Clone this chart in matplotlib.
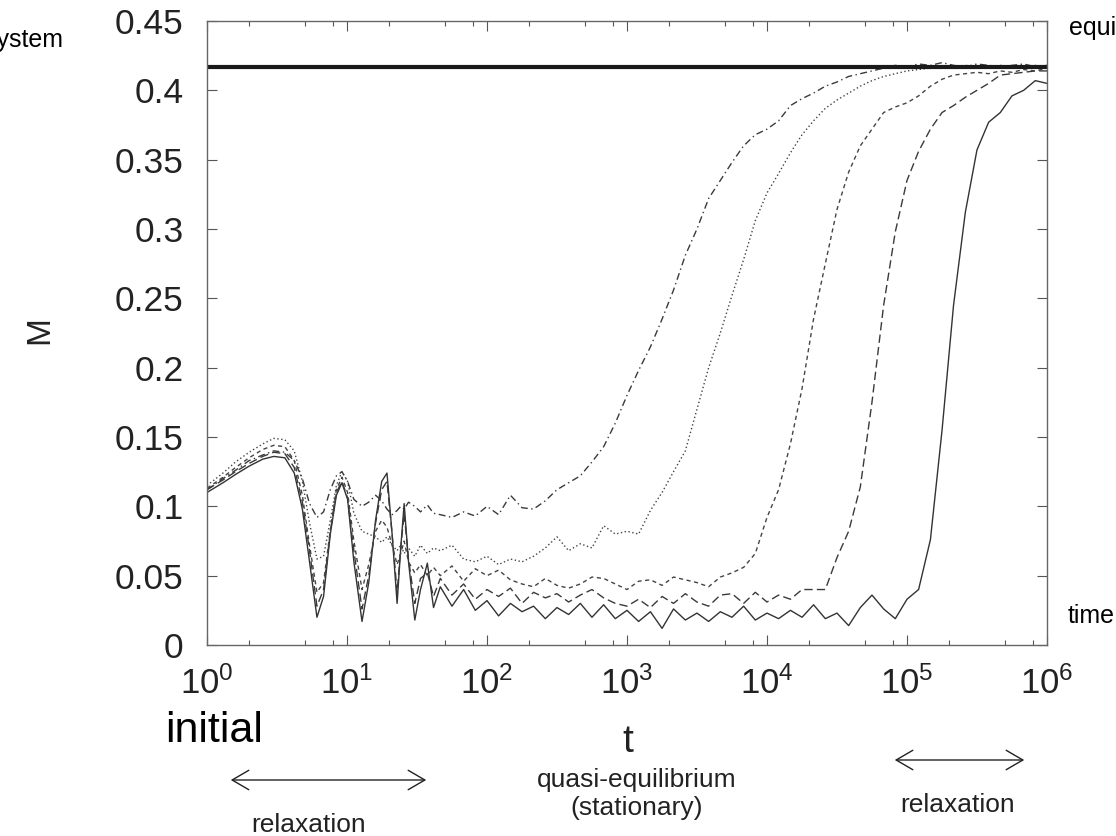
import matplotlib
matplotlib.use('Agg')
import matplotlib.pyplot as plt
from matplotlib.ticker import LogLocator, NullFormatter
from matplotlib.patches import FancyArrowPatch

# time grid: dense for early oscillations, then 12 points per decade
t_early = [1, 1.3, 1.6, 2, 2.5, 3, 3.6, 4.2, 4.8, 5.4,
           6.1, 6.8, 7.6, 8.4, 9.2, 10.1, 11.2, 12.8, 14.3, 16,
           17.7, 19.3, 21, 22.8, 24.2, 25.6, 27.5, 30.5, 33.5, 37.5,
           41.5]
t_late = [46.4, 56.2, 68.1, 82.5,
          100, 121, 147, 178, 215, 261, 316, 383, 464, 562, 681, 825,
          1000, 1210, 1470, 1780, 2150, 2610, 3160, 3830, 4640, 5620, 6810, 8250,
          10000, 12100, 14700, 17800, 21500, 26100, 31600, 38300, 46400, 56200, 68100, 82500,
          100000, 121000, 147000, 178000, 215000, 261000, 316000, 383000, 464000, 562000, 681000, 825000,
          1000000]

# solid curve (slowest)
m_solid_early = [0.110, 0.117, 0.123, 0.129, 0.134, 0.136, 0.135, 0.124, 0.098, 0.060,
                 0.020, 0.035, 0.080, 0.108, 0.117, 0.105, 0.060, 0.017, 0.045, 0.090,
                 0.118, 0.124, 0.080, 0.030, 0.070, 0.102, 0.060, 0.018, 0.040, 0.059,
                 0.027]
m_solid_late = [0.042, 0.028, 0.040, 0.025,
                0.032, 0.021, 0.030, 0.024, 0.028, 0.019, 0.027, 0.022, 0.030, 0.020, 0.029, 0.019,
                0.025, 0.017, 0.024, 0.012, 0.026, 0.018, 0.023, 0.017, 0.024, 0.020, 0.028, 0.018,
                0.023, 0.019, 0.025, 0.020, 0.029, 0.019, 0.023, 0.014, 0.027, 0.036, 0.026, 0.019,
                0.033, 0.040, 0.076, 0.155, 0.245, 0.312, 0.357, 0.377, 0.384, 0.396, 0.400, 0.407,
                0.405]

# long dashed curve
m_ldash_early = [0.112, 0.119, 0.125, 0.131, 0.136, 0.139, 0.138, 0.128, 0.103, 0.068,
                 0.028, 0.040, 0.082, 0.110, 0.118, 0.106, 0.068, 0.026, 0.050, 0.088,
                 0.112, 0.118, 0.080, 0.038, 0.070, 0.095, 0.062, 0.030, 0.048, 0.052,
                 0.035]
m_ldash_late = [0.048, 0.036, 0.044, 0.033,
                0.040, 0.035, 0.041, 0.030, 0.038, 0.034, 0.037, 0.031, 0.036, 0.040, 0.034, 0.030,
                0.028, 0.033, 0.027, 0.035, 0.030, 0.037, 0.031, 0.028, 0.036, 0.037, 0.030, 0.038,
                0.031, 0.036, 0.033, 0.040, 0.040, 0.040, 0.063, 0.082, 0.114, 0.175, 0.245, 0.298,
                0.335, 0.356, 0.372, 0.384, 0.389, 0.395, 0.400, 0.405, 0.411, 0.412, 0.413, 0.414,
                0.414]

# short dashed curve
m_sdash_early = [0.113, 0.121, 0.128, 0.135, 0.141, 0.144, 0.143, 0.133, 0.108, 0.072,
                 0.038, 0.045, 0.083, 0.112, 0.121, 0.110, 0.075, 0.040, 0.058, 0.082,
                 0.090, 0.085, 0.072, 0.058, 0.066, 0.075, 0.060, 0.052, 0.058, 0.050,
                 0.056]
m_sdash_late = [0.050, 0.057, 0.046, 0.055,
                0.050, 0.054, 0.047, 0.044, 0.042, 0.048, 0.043, 0.041, 0.044, 0.049, 0.048, 0.044,
                0.040, 0.046, 0.047, 0.043, 0.049, 0.047, 0.045, 0.042, 0.049, 0.052, 0.056, 0.066,
                0.092, 0.112, 0.145, 0.185, 0.235, 0.275, 0.314, 0.341, 0.360, 0.372, 0.384, 0.388,
                0.391, 0.396, 0.403, 0.408, 0.411, 0.412, 0.413, 0.412, 0.414, 0.413, 0.415, 0.414,
                0.416]

# dotted curve
m_dot_early = [0.115, 0.124, 0.132, 0.139, 0.145, 0.149, 0.148, 0.140, 0.118, 0.088,
               0.062, 0.064, 0.090, 0.115, 0.125, 0.118, 0.095, 0.082, 0.080, 0.078,
               0.074, 0.078, 0.072, 0.068, 0.072, 0.066, 0.070, 0.064, 0.072, 0.066,
               0.070]
m_dot_late = [0.068, 0.072, 0.062, 0.060,
              0.064, 0.058, 0.062, 0.060, 0.064, 0.070, 0.078, 0.068, 0.073, 0.070, 0.086, 0.080,
              0.082, 0.080, 0.097, 0.110, 0.125, 0.140, 0.170, 0.200, 0.225, 0.252, 0.278, 0.306,
              0.326, 0.340, 0.355, 0.368, 0.378, 0.387, 0.393, 0.398, 0.403, 0.407, 0.410, 0.412,
              0.414, 0.415, 0.416, 0.417, 0.416, 0.418, 0.417, 0.416, 0.418, 0.417, 0.416, 0.418,
              0.416]

# dash-dot curve (fastest)
m_dashdot_early = [0.112, 0.120, 0.126, 0.133, 0.137, 0.140, 0.139, 0.133, 0.120, 0.102,
                   0.092, 0.096, 0.112, 0.122, 0.125, 0.118, 0.105, 0.100, 0.103, 0.108,
                   0.104, 0.098, 0.094, 0.097, 0.100, 0.098, 0.103, 0.100, 0.096, 0.101,
                   0.095]
m_dashdot_late = [0.094, 0.092, 0.096, 0.093,
                  0.100, 0.094, 0.108, 0.099, 0.098, 0.104, 0.112, 0.117, 0.122, 0.132, 0.143, 0.160,
                  0.180, 0.198, 0.215, 0.235, 0.256, 0.281, 0.300, 0.322, 0.335, 0.348, 0.360, 0.368,
                  0.372, 0.378, 0.389, 0.394, 0.398, 0.403, 0.406, 0.410, 0.412, 0.414, 0.416, 0.418,
                  0.417, 0.419, 0.418, 0.420, 0.418, 0.417, 0.419, 0.418, 0.417, 0.418, 0.419, 0.417,
                  0.418]

m_equilibrium = 0.417

x_ticks = [1, 10, 100, 1000, 10000, 100000, 1000000]
x_tick_labels = ['$10^{0}$', '$10^{1}$', '$10^{2}$', '$10^{3}$', '$10^{4}$', '$10^{5}$', '$10^{6}$']
y_ticks = [0, 0.05, 0.1, 0.15, 0.2, 0.25, 0.3, 0.35, 0.4, 0.45]
y_tick_labels = ['0', '0.05', '0.1', '0.15', '0.2', '0.25', '0.3', '0.35', '0.4', '0.45']

plt.rcParams['mathtext.fontset'] = 'custom'
plt.rcParams['mathtext.rm'] = 'Liberation Sans'
plt.rcParams['mathtext.it'] = 'Liberation Sans'
plt.rcParams['font.family'] = ['Liberation Sans', 'DejaVu Sans']

t = t_early + t_late
curves = [
    (m_solid_early + m_solid_late, '-', '#333333'),
    (m_ldash_early + m_ldash_late, (0, (6, 3)), '#3a3a3a'),
    (m_sdash_early + m_sdash_late, (0, (3, 2.5)), '#444444'),
    (m_dot_early + m_dot_late, (0, (1, 1.8)), '#444444'),
    (m_dashdot_early + m_dashdot_late, (0, (5, 2.5, 1, 2.5)), '#3a3a3a'),
]

fig = plt.figure(figsize=(11.16, 8.36), dpi=100)
ax = fig.add_axes([207/1116, 1-645/836, 840/1116, 624/836])

for m, ls, col in curves:
    ax.plot(t, m, linestyle=ls, color=col, linewidth=1.0)

ax.axhline(m_equilibrium, color='#1a1a1a', linewidth=3.0)

ax.set_xscale('log')
ax.set_xlim(1, 1e6)
ax.set_ylim(0, 0.45)
ax.set_xticks(x_ticks)
ax.set_xticklabels(x_tick_labels)
ax.xaxis.set_minor_locator(LogLocator(base=10, subs=(2, 5, 8)))
ax.xaxis.set_minor_formatter(NullFormatter())
ax.set_yticks(y_ticks)
ax.set_yticklabels(y_tick_labels)

ax.tick_params(which='both', direction='in', top=True, right=True, color='#555555', width=0.8)
ax.tick_params(which='major', length=7)
ax.tick_params(which='minor', length=3.6)
ax.tick_params(axis='y', labelsize=25.5, pad=17, labelcolor='#222222')
ax.tick_params(axis='x', labelsize=25, pad=15.5, labelcolor='#222222')
for s in ax.spines.values():
    s.set_color('#666666')
    s.set_linewidth(1.0)


def fx(px):
    return px / 1116


def fy(py):
    return 1 - py / 836


fig.text(fx(40), fy(330), 'M', rotation=90, fontsize=24, ha='center', va='center', color='#222222')
fig.text(fx(628), fy(752), 't', fontsize=28, ha='center', va='baseline', color='#222222')
fig.text(fx(214), fy(742), 'initial', fontsize=31, ha='center', va='baseline', color='black')
fig.text(fx(637), fy(787), 'quasi-equilibrium', fontsize=19, ha='center', va='baseline', color='#222222')
fig.text(fx(637), fy(815), '(stationary)', fontsize=19, ha='center', va='baseline', color='#222222')
fig.text(fx(309), fy(832), 'relaxation', fontsize=19, ha='center', va='baseline', color='#222222')
fig.text(fx(958), fy(812), 'relaxation', fontsize=19, ha='center', va='baseline', color='#222222')
fig.text(fx(63), fy(40), 'system', fontsize=18, ha='right', va='center', color='black')
fig.text(fx(1069), fy(28), 'equilibrium', fontsize=18, ha='left', va='center', color='black')
fig.text(fx(1068), fy(616), 'time', fontsize=18, ha='left', va='center', color='black')

for (x0, x1, y) in [(228, 429, 780), (892, 1027, 760)]:
    arr = FancyArrowPatch((fx(x0), fy(y)), (fx(x1), fy(y)), transform=fig.transFigure,
                          arrowstyle='<->,head_length=0.6,head_width=0.35',
                          mutation_scale=20, color='#222222', linewidth=1.0)
    fig.add_artist(arr)

fig.savefig('out.png', dpi=100)
